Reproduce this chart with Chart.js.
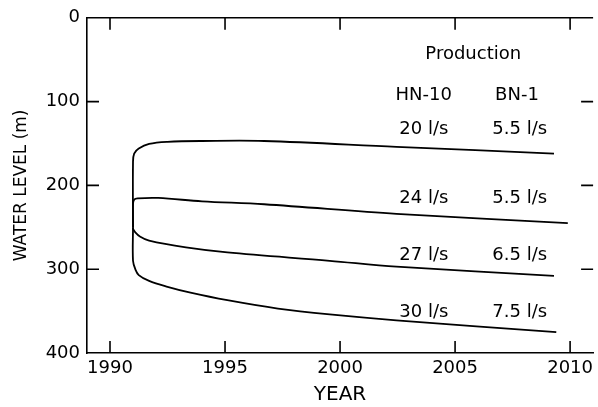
<!DOCTYPE html>
<html>
<head>
<meta charset="utf-8">
<script src="https://cdn.jsdelivr.net/npm/chart.js@4/dist/chart.umd.min.js"></script>
<style>
  body { margin: 0; background: #fff; }
  canvas { display: block; }
</style>
</head>
<body>
<canvas id="canvas" width="598" height="407"></canvas>
<script>
// year ticks and water level ticks
var yearTicks = [1990, 1995, 2000, 2005, 2010];
var levelTicks = [0, 100, 200, 300, 400];

// simulated water level (m) for each production case
var years20 = [1991, 1991, 1991.05, 1991.25, 1991.7, 1992.5, 1994, 1996.7, 2002.45, 2009.3];
var level20 = [250, 172, 162, 156, 150.5, 148, 147, 147, 154, 162];

var years24 = [1991, 1991, 1991.05, 1991.2, 1992.1, 1994, 1996.7, 2002.45, 2009.9];
var level24 = [250, 222, 217, 215.5, 215, 219, 222.5, 234, 245];

var years27 = [1991, 1991, 1991.1, 1991.3, 1991.7, 1993.3, 1995.1, 1999.55, 2002.45, 2009.3];
var level27 = [250, 252, 256, 261, 266, 274, 280, 290, 297, 308];

var years30 = [1991, 1991, 1991.1, 1991.25, 1991.7, 1992.5, 1993.5, 1995.1, 1997.3, 1999.55, 2002.45, 2009.4];
var level30 = [250, 290, 300, 307, 314, 321, 328, 337, 347, 354, 361, 375];

// production rates
var hn10Rates = ['20 l/s', '24 l/s', '27 l/s', '30 l/s'];
var bn1Rates = ['5.5 l/s', '5.5 l/s', '6.5 l/s', '7.5 l/s'];

var toPoints = function (xs, ys) {
    return xs.map(function (x, i) { return { x: x, y: ys[i] }; });
};

var lineSet = function (xs, ys) {
    return {
        data: toPoints(xs, ys),
        borderColor: '#000',
        borderWidth: 1.8,
        pointRadius: 0,
        tension: 0.35,
        fill: false
    };
};

var FONT = '"DejaVu Sans", sans-serif';

// frame, inward ticks and the text labels
var frameAndLabels = {
    id: 'frameAndLabels',
    afterDraw: function (chart) {
        var ctx = chart.ctx;
        var a = chart.chartArea;
        var x = chart.scales.x;
        var y = chart.scales.y;
        ctx.save();
        ctx.strokeStyle = '#000';
        ctx.lineWidth = 1.6;
        ctx.beginPath();
        ctx.moveTo(a.left, a.top);
        ctx.lineTo(a.right, a.top);
        yearTicks.forEach(function (v) {
            var px = x.getPixelForValue(v);
            ctx.moveTo(px, a.bottom);
            ctx.lineTo(px, a.bottom - 12);
            ctx.moveTo(px, a.top);
            ctx.lineTo(px, a.top + 12);
        });
        levelTicks.slice(1, -1).forEach(function (v) {
            var py = y.getPixelForValue(v);
            ctx.moveTo(a.left, py);
            ctx.lineTo(a.left + 12, py);
            ctx.moveTo(a.right - 12, py);
            ctx.lineTo(a.right, py);
        });
        ctx.stroke();

        ctx.fillStyle = '#000';
        ctx.font = '18px ' + FONT;
        ctx.textAlign = 'center';
        ctx.textBaseline = 'middle';
        var put = function (text, year, level) {
            ctx.fillText(text, x.getPixelForValue(year), y.getPixelForValue(level));
        };
        put('Production', 2005.79, 44);
        put('HN-10', 2003.64, 92.7);
        put('BN-1', 2007.69, 92.7);
        var rows = [132.5, 216, 283, 352];
        rows.forEach(function (lv, i) {
            put(hn10Rates[i], 2003.64, lv);
            put(bn1Rates[i], 2007.81, lv);
        });
        ctx.restore();
    }
};

window.onload = function () {
    var ctx = document.getElementById('canvas').getContext('2d');
    window.levelChart = new Chart(ctx, {
        type: 'line',
        data: {
            datasets: [
                lineSet(years20, level20),
                lineSet(years24, level24),
                lineSet(years27, level27),
                lineSet(years30, level30)
            ]
        },
        options: {
            responsive: false,
            animation: false,
            layout: { padding: { top: 15, right: 0, left: 0, bottom: 0 } },
            plugins: {
                legend: { display: false },
                tooltip: { enabled: false }
            },
            scales: {
                x: {
                    type: 'linear',
                    min: 1989,
                    max: 2011,
                    afterBuildTicks: function (s) {
                        s.ticks = yearTicks.map(function (v) { return { value: v }; });
                    },
                    afterFit: function (s) { s.height = 54; },
                    ticks: {
                        color: '#000',
                        font: { family: FONT, size: 18 },
                        padding: 5,
                        maxRotation: 0,
                        callback: function (v) { return String(v); }
                    },
                    grid: { drawOnChartArea: false, drawTicks: false },
                    border: { display: true, color: '#000', width: 1.6 },
                    title: {
                        display: true,
                        text: 'YEAR',
                        color: '#000',
                        font: { family: FONT, size: 20 },
                        padding: { top: 0, bottom: 0 }
                    }
                },
                y: {
                    type: 'linear',
                    reverse: true,
                    min: 0,
                    max: 400,
                    afterBuildTicks: function (s) {
                        s.ticks = levelTicks.map(function (v) { return { value: v }; });
                    },
                    afterFit: function (s) { s.width = 87; },
                    ticks: {
                        color: '#000',
                        font: { family: FONT, size: 18 },
                        padding: 7
                    },
                    grid: { drawOnChartArea: false, drawTicks: false },
                    border: { display: true, color: '#000', width: 1.6 },
                    title: {
                        display: true,
                        text: 'WATER LEVEL (m)',
                        color: '#000',
                        font: { family: FONT, size: 17 },
                        padding: { top: 11, bottom: 0 }
                    }
                }
            }
        },
        plugins: [frameAndLabels]
    });
};
</script>
</body>
</html>
